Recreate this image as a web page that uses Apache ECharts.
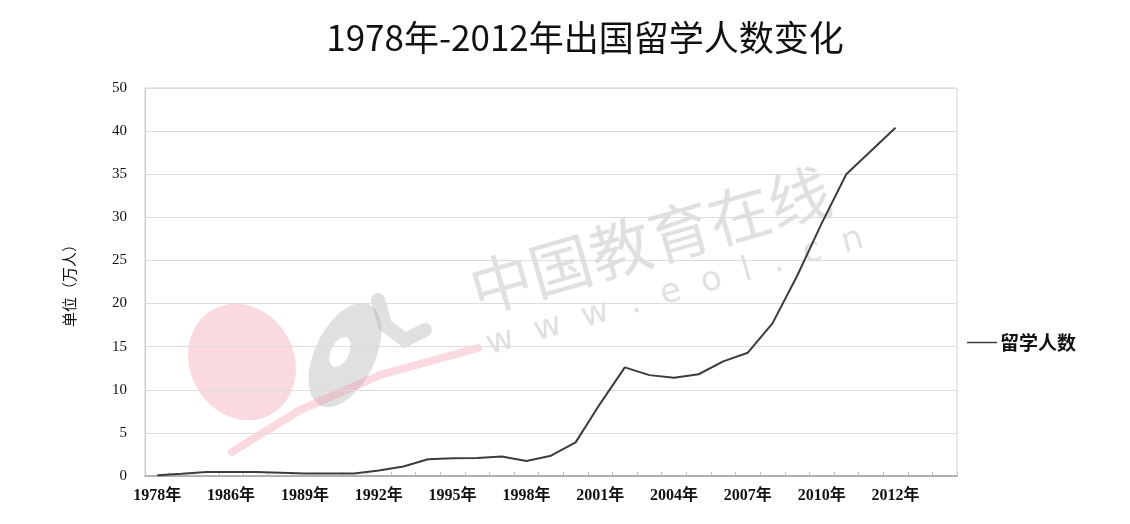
<!DOCTYPE html>
<html>
<head>
<meta charset="utf-8">
<script src="https://cdn.jsdelivr.net/npm/echarts@6/dist/echarts.min.js"></script>
<style>
html,body{margin:0;padding:0;background:#fff;}
#chart{width:1130px;height:524px;}
</style>
</head>
<body>
<div id="chart"></div>
<script>
// Categories (33 bands; labels shown every 3rd band)
var categories = ['1978年','1980年','1985年','1986年','1987年','1988年','1989年','1990年','1991年','1992年',
  '1993年','1994年','1995年','1996年','1997年','1998年','1999年','2000年','2001年','2002年',
  '2003年','2004年','2005年','2006年','2007年','2008年','2009年','2010年','2011年','2012',
  '2012年','',''];
// 出国留学人数（万人）
var studentsAbroad = [0.1,0.25,0.45,0.46,0.45,0.38,0.3,0.29,0.3,0.65,
  1.1,1.95,2.05,2.1,2.25,1.75,2.35,3.9,8.4,12.6,
  11.7,11.4,11.8,13.3,14.3,17.7,23.2,29.3,35.0,37.7,
  40.4];
// y tick labels as printed (top label reads "50")
var yTickLabels = ['0','5','10','15','20','25','30','35','40','50'];

var chart = echarts.init(document.getElementById('chart'));
var serif = '"Liberation Serif", "Noto Sans CJK SC", serif';
var cjk = '"Noto Sans CJK SC", sans-serif';
chart.setOption({
  backgroundColor: '#fff',
  animation: false,
  title: {
    text: '1978年-2012年出国留学人数变化',
    left: 580, top: 15, textAlign: 'center',
    textStyle: {fontFamily: cjk, fontSize: 35, fontWeight: 'normal', color: '#111'}
  },
  legend: {
    left: 962, top: 328,
    icon: 'rect', itemWidth: 30, itemHeight: 1.5, itemGap: 4,
    textStyle: {fontFamily: cjk, fontSize: 19, fontWeight: 'bold', color: '#111', padding: [0,0,0,-2]},
    data: ['留学人数']
  },
  grid: {
    left: 145, right: 173, top: 88, bottom: 48,
    show: true, borderColor: '#d4d4d4', borderWidth: 1
  },
  graphic: [
    {type: 'ellipse', shape: {cx: 242, cy: 362, rx: 52, ry: 60}, rotation: 0.5, originX: 242, originY: 362,
      style: {fill: 'rgba(240,150,165,0.35)'}, z: 0},
    {type: 'ellipse', shape: {cx: 345, cy: 355, rx: 30, ry: 56}, rotation: -0.45, originX: 345, originY: 355,
      style: {fill: 'rgba(165,165,165,0.35)'}, z: 0},
    {type: 'ellipse', shape: {cx: 340, cy: 352, rx: 9, ry: 16}, rotation: -0.45, originX: 340, originY: 352,
      style: {fill: '#fff'}, z: 0},
    {type: 'polyline', shape: {points: [[378,300],[385,325],[405,340],[425,330]]},
      style: {stroke: 'rgba(165,165,165,0.35)', lineWidth: 14, fill: null, lineCap: 'round'}, z: 0},
    {type: 'polyline', shape: {points: [[232,452],[300,410],[380,375],[478,348]]},
      style: {stroke: 'rgba(240,150,165,0.35)', lineWidth: 8, fill: null, lineCap: 'round'}, z: 0},
    {type: 'text', x: 650, y: 240, rotation: 0.28, originX: 0, originY: 0,
      style: {text: '中国教育在线', fontFamily: cjk, fontSize: 62, fill: 'rgba(160,160,160,0.32)',
        align: 'center', verticalAlign: 'middle'}, z: 0},
    {type: 'text', x: 675, y: 292, rotation: 0.28, originX: 0, originY: 0,
      style: {text: 'w  w  w  .  e  o  l  .  c  n', fontFamily: 'DejaVu Sans', fontSize: 34, fill: 'rgba(160,160,160,0.32)',
        align: 'center', verticalAlign: 'middle'}, z: 0}
  ],
  xAxis: {
    type: 'category',
    data: categories,
    boundaryGap: true,
    axisLine: {lineStyle: {color: '#a0a0a0', width: 1.5}},
    axisTick: {show: true, inside: true, length: 4, interval: 0, lineStyle: {color: '#bdbdbd'}},
    axisLabel: {interval: 2, margin: 12, fontFamily: serif, fontSize: 16, fontWeight: 'bold', color: '#111'},
    splitLine: {show: false}
  },
  yAxis: {
    type: 'value', min: 0, max: 45, interval: 5,
    name: '单位（万人）', nameLocation: 'middle', nameRotate: 90, nameGap: 68,
    nameTextStyle: {fontFamily: cjk, fontSize: 15, color: '#111'},
    axisLine: {show: true, lineStyle: {color: '#c8c8c8'}},
    axisTick: {show: false},
    axisLabel: {margin: 18, fontFamily: serif, fontSize: 15, color: '#111',
      formatter: function (v) { return yTickLabels[Math.round(v / 5)]; }},
    splitLine: {lineStyle: {color: '#dcdcdc', width: 1}}
  },
  series: [{
    name: '留学人数',
    type: 'line',
    data: studentsAbroad,
    symbol: 'none',
    color: '#3c3c3c',
    lineStyle: {color: '#3c3c3c', width: 2},
    z: 3
  }]
});
</script>
</body>
</html>
